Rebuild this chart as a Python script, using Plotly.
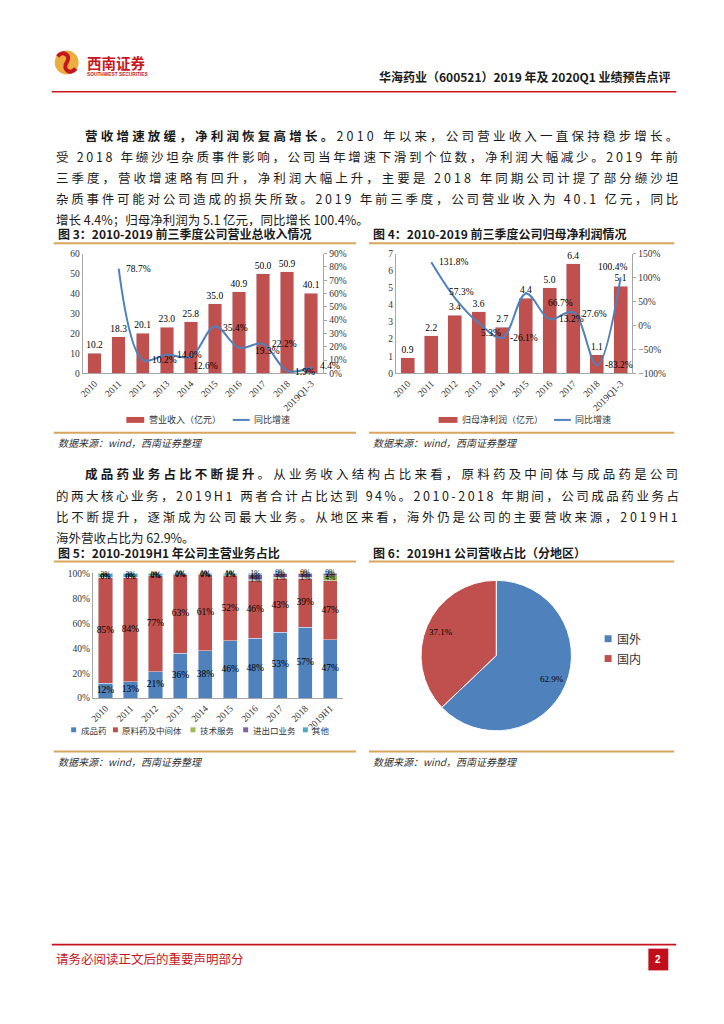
import math
import plotly.graph_objects as go

# The page body adds an 8px margin, so the figure is drawn 8px in from the window corner.
OFF = 8
FW, FH = 708, 1008


def X(p):
    return (p - OFF) / FW


def Y(p):
    return 1 - (p - OFF) / FH


CJK = "Noto Sans CJK SC"
SERIF = "Liberation Serif"
SANS = "Liberation Sans"

RED = "#C0504D"
BLUE = "#4F81BD"
GREEN = "#9BBB59"
PURPLE = "#8064A2"
TEAL = "#4BACC6"
GOLD = "#D8A65E"
BRAND_RED = "#C8161E"
AXIS = "#A6A6A6"
INK = "#1A1A1A"
TICK = "#333333"

# ---------------- data ----------------
years = ["2010", "2011", "2012", "2013", "2014", "2015", "2016", "2017", "2018", "2019Q1-3"]
revenue = [10.2, 18.3, 20.1, 23.0, 25.8, 35.0, 40.9, 50.0, 50.9, 40.1]
growth_years = years[1:]
revenue_growth = [78.7, 10.2, 14.0, 12.6, 35.4, 19.3, 22.2, 1.9, 4.4]

profit = [0.9, 2.2, 3.4, 3.6, 2.7, 4.4, 5.0, 6.4, 1.1, 5.1]
profit_growth = [131.8, 57.3, 5.3, -26.1, 66.7, 13.2, 27.6, -83.2, 100.4]

years5 = ["2010", "2011", "2012", "2013", "2014", "2015", "2016", "2017", "2018", "2019H1"]
finished_drugs = [12, 13, 21, 36, 38, 46, 48, 53, 57, 47]
api_intermediates = [85, 84, 77, 63, 61, 52, 46, 43, 39, 47]
tech_services = [0, 0, 0, 0, 0, 1, 1, 1, 1, 4]
import_export = [0, 0, 0, 0, 0, 0, 4, 3, 3, 2]
others = [3, 3, 2, 1, 1, 1, 1, 0, 0, 0]

regions = ["国外", "国内"]
region_share = [62.9, 37.1]

# ---------------- helpers ----------------
annotations = []
shapes = []


def ann(x, y, text, size=12.0, color=INK, family=CJK, xanchor="left"):
    annotations.append(dict(x=X(x), y=Y(y), xref="paper", yref="paper", text=text,
                            showarrow=False, xanchor=xanchor, yanchor="middle",
                            font=dict(family=family, size=size, color=color)))


def hline(x0, x1, y, color, width):
    shapes.append(dict(type="line", xref="paper", yref="paper", x0=X(x0), x1=X(x1),
                       y0=Y(y), y1=Y(y), line=dict(color=color, width=width)))


def rect(x0, y0, x1, y1, color):
    shapes.append(dict(type="rect", xref="paper", yref="paper", x0=X(x0), x1=X(x1),
                       y0=Y(y1), y1=Y(y0), fillcolor=color, line=dict(width=0)))


def char_w(ch):
    if ord(ch) >= 0x2E80:
        return 1.0
    if ch.isdigit():
        return 0.553
    if ch == " ":
        return 0.224
    if ch == ".":
        return 0.27
    if ch == "%":
        return 0.86
    if ch == "-":
        return 0.34
    if ch in "HQ":
        return 0.75
    return 0.55


def para_line(x0, x1, y, plain, bold="", size=12.5):
    s = bold + plain
    if x1 is None:
        ls = 0.0
    else:
        nat = sum(char_w(c) for c in s) * size
        ls = (x1 - x0 - nat) / (len(s) - 1)
    txt = (f"<b>{bold}</b>" if bold else "") + plain
    ann(x0, y, f'<span style="letter-spacing:{ls:.2f}px">{txt}</span>', size=size)


# ---------------- header ----------------
shapes.append(dict(type="circle", xref="paper", yref="paper", x0=X(51), x1=X(75),
                   y0=Y(70), y1=Y(46), fillcolor="#EDAE3F", line=dict(width=0)))
shapes.append(dict(type="path", xref="paper", yref="paper", xsizemode="pixel", ysizemode="pixel",
                   xanchor=X(63), yanchor=Y(58),
                   path="M-9,6 C-4,13 5,7 0,0 C-5,-7 4,-13 9,-6",
                   line=dict(color=BRAND_RED, width=4)))
ann(81, 58, "<b>西南证券</b>", size=14.5, color=BRAND_RED)
ann(81, 70.5, "<b>SOUTHWEST SECURITIES</b>", size=4.8, color=BRAND_RED, family=SANS)
ann(673, 72, "<b>华海药业（600521）2019 年及 2020Q1 业绩预告点评</b>", size=12, color=INK, xanchor="right")
hline(48, 676, 87.5, BRAND_RED, 1.6)

# ---------------- paragraph 1 ----------------
p1_y = [131.5, 152.7, 173.9, 195.1, 216.3]
para_line(79, 672, p1_y[0], "2010 年以来，公司营业收入一直保持稳步增长。", bold="营收增速放缓，净利润恢复高增长。")
para_line(50, 672, p1_y[1], "受 2018 年缬沙坦杂质事件影响，公司当年增速下滑到个位数，净利润大幅减少。2019 年前")
para_line(50, 672, p1_y[2], "三季度，营收增速略有回升，净利润大幅上升，主要是 2018 年同期公司计提了部分缬沙坦")
para_line(50, 672, p1_y[3], "杂质事件可能对公司造成的损失所致。2019 年前三季度，公司营业收入为 40.1 亿元，同比")
para_line(50, None, p1_y[4], "增长 4.4%；归母净利润为 5.1 亿元，同比增长 100.4%。")

# ---------------- paragraph 2 ----------------
p2_y = [473.5, 495.0, 516.5, 538.0]
para_line(79, 672, p2_y[0], "。从业务收入结构占比来看，原料药及中间体与成品药是公司", bold="成品药业务占比不断提升")
para_line(50, 672, p2_y[1], "的两大核心业务，2019H1 两者合计占比达到 94%。2010-2018 年期间，公司成品药业务占")
para_line(50, 672, p2_y[2], "比不断提升，逐渐成为公司最大业务。从地区来看，海外仍是公司的主要营收来源，2019H1")
para_line(50, None, p2_y[3], "海外营收占比为 62.9%。")

# ---------------- chart titles / rules / sources ----------------
LX, RX = 52, 369
ann(LX, 231, "<b>图 3：2010-2019 前三季度公司营业总收入情况</b>", size=12)
ann(RX, 231, "<b>图 4：2010-2019 前三季度公司归母净利润情况</b>", size=12)
ann(LX, 553, "<b>图 5：2010-2019H1 年公司主营业务占比</b>", size=12)
ann(RX, 553, "<b>图 6：2019H1 公司营收占比（分地区）</b>", size=12)
for (a, b) in [(50, 354), (367, 674)]:
    hline(a, b, 240.5, GOLD, 2)
    hline(a, b, 432, GOLD, 2)
    hline(a, b, 562, GOLD, 2)
    hline(a, b, 754, GOLD, 2)
src = "<i>数据来源：wind，西南证券整理</i>"
ann(LX, 442, src, size=10, color="#333")
ann(RX, 442, src, size=10, color="#333")
ann(LX, 764, src, size=10, color="#333")
ann(RX, 764, src, size=10, color="#333")

# ---------------- footer ----------------
hline(48, 676, 949, BRAND_RED, 1.6)
ann(50, 963, "请务必阅读正文后的重要声明部分", size=12.5, color=BRAND_RED)
rect(648, 953, 668, 975, "#C00F1A")
ann(658, 964, "<b>2</b>", size=10, color="white", family=SANS, xanchor="center")

# ---------------- figure ----------------
fig = go.Figure()

num_font = dict(family=SERIF, size=9.5, color="#000")

# Chart 3
fig.add_trace(go.Bar(x=years, y=revenue, name="营业收入（亿元）", marker_color=RED, width=0.56,
                     text=[f"{v:.1f}" for v in revenue], textposition="outside",
                     constraintext="none", cliponaxis=False, textfont=num_font,
                     xaxis="x", yaxis="y", showlegend=False, hoverinfo="skip"))
fig.add_trace(go.Scatter(x=growth_years, y=revenue_growth, name="同比增速", mode="lines",
                         line=dict(color=BLUE, width=2, shape="spline", smoothing=1.0),
                         xaxis="x", yaxis="y2", showlegend=False, hoverinfo="skip"))
off3 = [("left", 5, 0), ("left", 7, 0), ("left", 8, 0), ("left", 0, -9), ("left", 6, -2),
        ("left", 14, -3), ("left", 7, 0), ("left", 6, -1), ("left", 7, 2)]
for c, v, (xa, dx, dy) in zip(growth_years, revenue_growth, off3):
    annotations.append(dict(x=years.index(c), y=v, xref="x", yref="y2", text=f"{v:.1f}%",
                            showarrow=False, xanchor=xa, yanchor="middle", xshift=dx, yshift=dy,
                            font=num_font))

# Chart 4
fig.add_trace(go.Bar(x=years, y=profit, name="归母净利润（亿元）", marker_color=RED, width=0.59,
                     text=[f"{v:.1f}" for v in profit], textposition="outside",
                     constraintext="none", cliponaxis=False, textfont=num_font,
                     xaxis="x2", yaxis="y3", showlegend=False, hoverinfo="skip"))
fig.add_trace(go.Scatter(x=growth_years, y=profit_growth, name="同比增速", mode="lines",
                         line=dict(color=BLUE, width=2, shape="spline", smoothing=1.0),
                         xaxis="x2", yaxis="y4", showlegend=False, hoverinfo="skip"))
off4 = [("left", 6, 0), ("left", -8, 6), ("left", 0, -10), ("left", 6, 0), ("left", 20, -9),
        ("left", 7, 0), ("left", 7, -2), ("left", 6, 0), ("center", -8, 10)]
for c, v, (xa, dx, dy) in zip(growth_years, profit_growth, off4):
    annotations.append(dict(x=years.index(c), y=v, xref="x2", yref="y4", text=f"{v:.1f}%",
                            showarrow=False, xanchor=xa, yanchor="middle", xshift=dx, yshift=dy,
                            font=num_font))

# Chart 5
series5 = [("成品药", finished_drugs, BLUE), ("原料药及中间体", api_intermediates, RED),
           ("技术服务", tech_services, GREEN), ("进出口业务", import_export, PURPLE),
           ("其他", others, TEAL)]
for name, vals, col in series5:
    fig.add_trace(go.Bar(x=years5, y=vals, name=name, marker_color=col, width=0.57,
                         xaxis="x3", yaxis="y5", showlegend=False, hoverinfo="skip"))
cum = [0] * len(years5)
for k, (name, vals, col) in enumerate(series5):
    mids = [c + v / 2 for c, v in zip(cum, vals)]
    cum = [c + v for c, v in zip(cum, vals)]
    small = k >= 2
    fig.add_trace(go.Scatter(x=years5, y=mids, mode="text", text=[f"{v}%" for v in vals],
                             textposition="middle center",
                             textfont=dict(family=SERIF, size=7.5 if small else 9.5, color="#000"),
                             xaxis="x3", yaxis="y5", showlegend=False, hoverinfo="skip",
                             cliponaxis=False))

# Chart 6
PIE_X, PIE_Y, PIE_R = (419, 571), (581, 733), 76
fig.add_trace(go.Pie(labels=regions, values=region_share, sort=False, direction="clockwise",
                     rotation=0, marker=dict(colors=[BLUE, RED], line=dict(color="white", width=1)),
                     textinfo="none",
                     domain=dict(x=[X(PIE_X[0]), X(PIE_X[1])], y=[Y(PIE_Y[1]), Y(PIE_Y[0])]),
                     showlegend=False, hoverinfo="skip"))
pcx, pcy = sum(PIE_X) / 2, sum(PIE_Y) / 2
start = 0.0
total = sum(region_share)
for name, v in zip(regions, region_share):
    ang = math.radians((start + v / 2) / total * 360)
    ann(pcx + 0.8 * PIE_R * math.sin(ang), pcy - 0.8 * PIE_R * math.cos(ang), f"{v:.1f}%",
        size=9, color="#000", family=SERIF, xanchor="center")
    start += v

# ---------------- custom legends ----------------
rect(123, 416, 141, 422, RED)
ann(144, 419, "营业收入（亿元）", size=9, color=TICK)
hline(230, 247, 419, BLUE, 2)
ann(249, 419, "同比增速", size=9, color=TICK)

rect(437, 416, 456, 422, RED)
ann(459, 419, "归母净利润（亿元）", size=9, color=TICK)
hline(553, 570, 419, BLUE, 2)
ann(572, 419, "同比增速", size=9, color=TICK)

leg5_x = [70, 112, 190, 243, 303]
for (name, vals, col), lx in zip(series5, leg5_x):
    rect(lx - 2.5, 729.5, lx + 2.5, 734.5, col)
    ann(lx + 5, 732, name, size=8.5, color=TICK)

for i, (name, col) in enumerate(zip(regions, [BLUE, RED])):
    yy = 640 + 20 * i
    rect(604, yy - 3.5, 611, yy + 3.5, col)
    ann(614, yy, name, size=12, color=TICK)

# ---------------- axes ----------------
tickf = dict(family=SERIF, size=9.5, color=TICK)
base_x = dict(type="category", tickangle=-45, showline=True, linecolor=AXIS, linewidth=1,
              ticks="", showgrid=False, zeroline=False, tickfont=tickf, fixedrange=True,
              range=[-0.5, 9.5], autorange=False)
base_y = dict(showline=True, linecolor=AXIS, linewidth=1, showgrid=False, zeroline=False,
              tickfont=tickf, ticks="", fixedrange=True)

dom_y34 = [Y(372), Y(251)]
fig.update_layout(
    width=FW, height=FH, autosize=False,
    margin=dict(l=0, r=0, t=0, b=0),
    paper_bgcolor="white", plot_bgcolor="rgba(0,0,0,0)",
    barmode="stack",
    showlegend=False,
    xaxis=dict(base_x, domain=[X(79), X(321)], anchor="y"),
    yaxis=dict(base_y, domain=dom_y34, range=[0, 60], dtick=10, anchor="x"),
    yaxis2=dict(base_y, overlaying="y", side="right", anchor="x", range=[0, 90], dtick=10,
                ticksuffix="%", ticks="outside", ticklen=3, tickcolor=AXIS),
    xaxis2=dict(base_x, domain=[X(394), X(632)], anchor="y3"),
    yaxis3=dict(base_y, domain=dom_y34, range=[0, 7], dtick=1, anchor="x2"),
    yaxis4=dict(base_y, overlaying="y3", side="right", anchor="x2", range=[-100, 150], dtick=50,
                ticksuffix="%", ticks="outside", ticklen=3, tickcolor=AXIS),
    xaxis3=dict(base_x, domain=[X(89.4), X(340.6)], anchor="y5"),
    yaxis5=dict(base_y, domain=[Y(700), Y(574)], range=[0, 100], dtick=20, ticksuffix="%",
                anchor="x3"),
    annotations=annotations,
    shapes=shapes,
)

fig.write_html("out.html")
